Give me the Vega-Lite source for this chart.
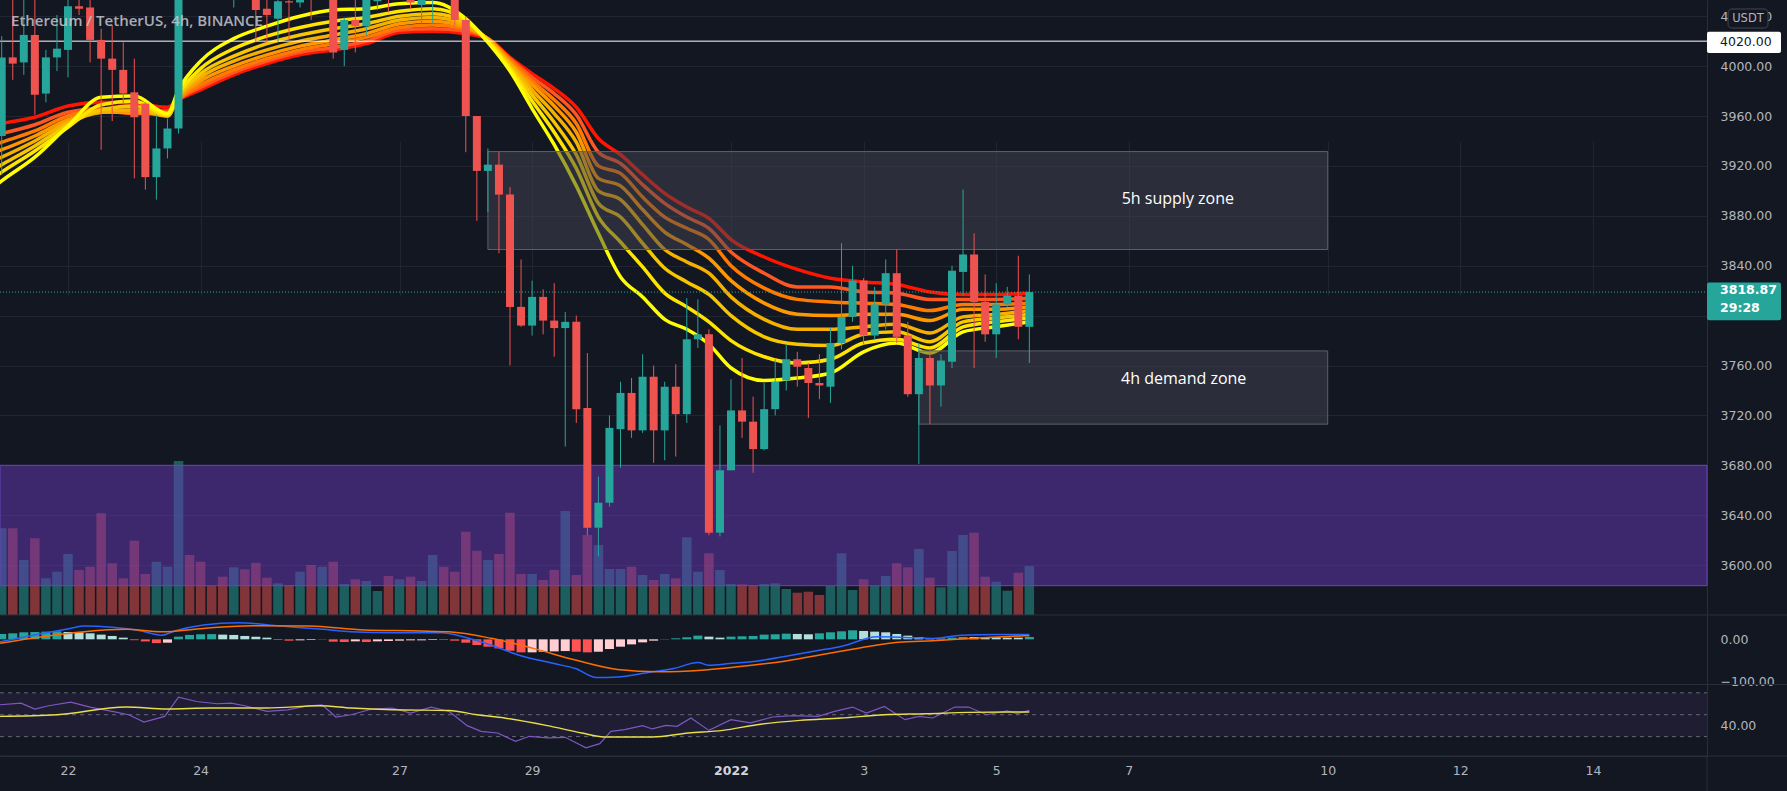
{
"$schema": "https://vega.github.io/schema/vega-lite/v6.json",
"width": 1707,
"height": 756,
"autosize": {"type": "none"},
"padding": {"left": 0, "top": 0, "right": 80, "bottom": 35},
"background": "#131722",
"config": {"view": {"stroke": null}},
"datasets": {
"candles": [
{"t":"2021-12-21T00:00","o":3944,"h":4024,"l":3913,"c":4007,"v":86700,"hv":12.8,"hs":"g"},
{"t":"2021-12-21T04:00","o":4007,"h":4062,"l":3989,"c":4002,"v":86700,"hv":14.3,"hs":"g"},
{"t":"2021-12-21T08:00","o":4003,"h":4058,"l":3993,"c":4025,"v":55000,"hv":16.7,"hs":"g"},
{"t":"2021-12-21T12:00","o":4025,"h":4056,"l":3961,"c":3977,"v":76700,"hv":17.5,"hs":"g"},
{"t":"2021-12-21T16:00","o":3978,"h":4013,"l":3971,"c":4007,"v":36700,"hv":18.3,"hs":"g"},
{"t":"2021-12-21T20:00","o":4007,"h":4041,"l":3996,"c":4014,"v":43300,"hv":19.1,"hs":"g"},
{"t":"2021-12-22T00:00","o":4013,"h":4062,"l":3991,"c":4048,"v":61000,"hv":17.5,"hs":"gl"},
{"t":"2021-12-22T04:00","o":4048,"h":4068,"l":4041,"c":4046,"v":45000,"hv":16.7,"hs":"gl"},
{"t":"2021-12-22T08:00","o":4047,"h":4065,"l":4003,"c":4021,"v":48300,"hv":14.3,"hs":"gl"},
{"t":"2021-12-22T12:00","o":4021,"h":4030,"l":3933,"c":4006,"v":101700,"hv":11.2,"hs":"gl"},
{"t":"2021-12-22T16:00","o":4006,"h":4033,"l":3956,"c":3997,"v":51700,"hv":8,"hs":"gl"},
{"t":"2021-12-22T20:00","o":3997,"h":4019,"l":3970,"c":3978,"v":36700,"hv":4,"hs":"gl"},
{"t":"2021-12-23T00:00","o":3979,"h":4006,"l":3910,"c":3959,"v":74300,"hv":-2,"hs":"r"},
{"t":"2021-12-23T04:00","o":3970,"h":3971,"l":3901,"c":3911,"v":41000,"hv":-5,"hs":"r"},
{"t":"2021-12-23T08:00","o":3911,"h":3961,"l":3893,"c":3934,"v":53300,"hv":-9,"hs":"r"},
{"t":"2021-12-23T12:00","o":3934,"h":3958,"l":3926,"c":3950,"v":48300,"hv":-8,"hs":"rl"},
{"t":"2021-12-23T16:00","o":3950,"h":4085,"l":3946,"c":4075,"v":154000,"hv":6.4,"hs":"g"},
{"t":"2021-12-23T20:00","o":4092,"h":4110,"l":4070,"c":4080,"v":60000,"hv":10.4,"hs":"g"},
{"t":"2021-12-24T00:00","o":4080,"h":4098,"l":4062,"c":4070,"v":53300,"hv":12,"hs":"g"},
{"t":"2021-12-24T04:00","o":4070,"h":4085,"l":4058,"c":4066,"v":29000,"hv":12.4,"hs":"g"},
{"t":"2021-12-24T08:00","o":4066,"h":4080,"l":4056,"c":4060,"v":38300,"hv":11.2,"hs":"gl"},
{"t":"2021-12-24T12:00","o":4060,"h":4082,"l":4047,"c":4072,"v":47700,"hv":10.4,"hs":"gl"},
{"t":"2021-12-24T16:00","o":4072,"h":4085,"l":4058,"c":4066,"v":45700,"hv":8,"hs":"gl"},
{"t":"2021-12-24T20:00","o":4066,"h":4072,"l":4019,"c":4045,"v":52300,"hv":6.4,"hs":"gl"},
{"t":"2021-12-25T00:00","o":4046,"h":4060,"l":4019,"c":4041,"v":37300,"hv":4,"hs":"gl"},
{"t":"2021-12-25T04:00","o":4038,"h":4062,"l":4019,"c":4052,"v":31700,"hv":-1.6,"hs":"r"},
{"t":"2021-12-25T08:00","o":4052,"h":4060,"l":4021,"c":4051,"v":30000,"hv":-3.2,"hs":"r"},
{"t":"2021-12-25T12:00","o":4051,"h":4068,"l":4047,"c":4060,"v":43300,"hv":-2.4,"hs":"rl"},
{"t":"2021-12-25T16:00","o":4072,"h":4082,"l":4037,"c":4062,"v":50000,"hv":-1.6,"hs":"rl"},
{"t":"2021-12-25T20:00","o":4062,"h":4090,"l":4056,"c":4080,"v":48300,"hv":0.8,"hs":"g"},
{"t":"2021-12-26T00:00","o":4080,"h":4088,"l":4006,"c":4011,"v":53300,"hv":-5.6,"hs":"r"},
{"t":"2021-12-26T04:00","o":4013,"h":4039,"l":4000,"c":4037,"v":31000,"hv":-6.4,"hs":"r"},
{"t":"2021-12-26T08:00","o":4037,"h":4055,"l":4011,"c":4032,"v":35700,"hv":-4.8,"hs":"rl"},
{"t":"2021-12-26T12:00","o":4032,"h":4065,"l":4024,"c":4058,"v":34000,"hv":-6.4,"hs":"r"},
{"t":"2021-12-26T16:00","o":4052,"h":4078,"l":4045,"c":4070,"v":24000,"hv":-4.8,"hs":"rl"},
{"t":"2021-12-26T20:00","o":4075,"h":4085,"l":4043,"c":4062,"v":39000,"hv":-4,"hs":"rl"},
{"t":"2021-12-27T00:00","o":4062,"h":4090,"l":4055,"c":4078,"v":35700,"hv":-3.2,"hs":"rl"},
{"t":"2021-12-27T04:00","o":4080,"h":4088,"l":4046,"c":4051,"v":38300,"hv":-2.4,"hs":"rl"},
{"t":"2021-12-27T08:00","o":4049,"h":4072,"l":4034,"c":4060,"v":34000,"hv":-2.4,"hs":"rl"},
{"t":"2021-12-27T12:00","o":4058,"h":4080,"l":4034,"c":4070,"v":60000,"hv":-1.6,"hs":"rl"},
{"t":"2021-12-27T16:00","o":4070,"h":4085,"l":4055,"c":4068,"v":48300,"hv":-0.8,"hs":"rl"},
{"t":"2021-12-27T20:00","o":4068,"h":4075,"l":4032,"c":4037,"v":43300,"hv":-3.2,"hs":"r"},
{"t":"2021-12-28T00:00","o":4037,"h":4040,"l":3931,"c":3960,"v":83300,"hv":-8,"hs":"r"},
{"t":"2021-12-28T04:00","o":3960,"h":3960,"l":3876,"c":3916,"v":64300,"hv":-13.5,"hs":"r"},
{"t":"2021-12-28T08:00","o":3916,"h":3934,"l":3883,"c":3921,"v":55000,"hv":-17.5,"hs":"r"},
{"t":"2021-12-28T12:00","o":3921,"h":3931,"l":3850,"c":3897,"v":61000,"hv":-21.5,"hs":"r"},
{"t":"2021-12-28T16:00","o":3897,"h":3903,"l":3760,"c":3807,"v":102300,"hv":-27,"hs":"r"},
{"t":"2021-12-28T20:00","o":3807,"h":3845,"l":3791,"c":3792,"v":41000,"hv":-31,"hs":"r"},
{"t":"2021-12-29T00:00","o":3792,"h":3828,"l":3784,"c":3815,"v":41000,"hv":-31,"hs":"rl"},
{"t":"2021-12-29T04:00","o":3815,"h":3821,"l":3785,"c":3796,"v":35000,"hv":-29.5,"hs":"rl"},
{"t":"2021-12-29T08:00","o":3796,"h":3826,"l":3767,"c":3790,"v":45000,"hv":-28.7,"hs":"rl"},
{"t":"2021-12-29T12:00","o":3790,"h":3803,"l":3695,"c":3795,"v":104000,"hv":-27.9,"hs":"rl"},
{"t":"2021-12-29T16:00","o":3795,"h":3800,"l":3714,"c":3725,"v":40000,"hv":-29.5,"hs":"r"},
{"t":"2021-12-29T20:00","o":3726,"h":3770,"l":3624,"c":3630,"v":80000,"hv":-31,"hs":"r"},
{"t":"2021-12-30T00:00","o":3630,"h":3671,"l":3607,"c":3650,"v":70000,"hv":-29.5,"hs":"rl"},
{"t":"2021-12-30T04:00","o":3650,"h":3720,"l":3647,"c":3710,"v":46000,"hv":-23,"hs":"rl"},
{"t":"2021-12-30T08:00","o":3709,"h":3747,"l":3678,"c":3738,"v":46000,"hv":-17.5,"hs":"rl"},
{"t":"2021-12-30T12:00","o":3738,"h":3750,"l":3702,"c":3708,"v":48300,"hv":-12,"hs":"rl"},
{"t":"2021-12-30T16:00","o":3708,"h":3769,"l":3706,"c":3751,"v":40000,"hv":-7.2,"hs":"rl"},
{"t":"2021-12-30T20:00","o":3751,"h":3760,"l":3682,"c":3708,"v":35000,"hv":-3.2,"hs":"rl"},
{"t":"2021-12-31T00:00","o":3708,"h":3747,"l":3684,"c":3743,"v":41000,"hv":0.8,"hs":"g"},
{"t":"2021-12-31T04:00","o":3743,"h":3761,"l":3687,"c":3721,"v":36700,"hv":2.4,"hs":"g"},
{"t":"2021-12-31T08:00","o":3721,"h":3814,"l":3714,"c":3781,"v":77700,"hv":4.8,"hs":"g"},
{"t":"2021-12-31T12:00","o":3781,"h":3813,"l":3774,"c":3785,"v":43300,"hv":8.8,"hs":"g"},
{"t":"2021-12-31T16:00","o":3785,"h":3789,"l":3624,"c":3626,"v":61700,"hv":6.4,"hs":"gl"},
{"t":"2021-12-31T20:00","o":3626,"h":3712,"l":3623,"c":3676,"v":45000,"hv":4,"hs":"gl"},
{"t":"2022-01-01T00:00","o":3676,"h":3749,"l":3676,"c":3724,"v":31000,"hv":6.4,"hs":"g"},
{"t":"2022-01-01T04:00","o":3724,"h":3766,"l":3702,"c":3715,"v":30700,"hv":7.2,"hs":"g"},
{"t":"2022-01-01T08:00","o":3715,"h":3735,"l":3674,"c":3693,"v":30000,"hv":8,"hs":"g"},
{"t":"2022-01-01T12:00","o":3693,"h":3746,"l":3692,"c":3725,"v":31000,"hv":11.2,"hs":"g"},
{"t":"2022-01-01T16:00","o":3725,"h":3765,"l":3720,"c":3747,"v":31700,"hv":12,"hs":"g"},
{"t":"2022-01-01T20:00","o":3748,"h":3777,"l":3740,"c":3765,"v":26000,"hv":13.5,"hs":"g"},
{"t":"2022-01-02T00:00","o":3765,"h":3771,"l":3743,"c":3759,"v":22300,"hv":12.8,"hs":"gl"},
{"t":"2022-01-02T04:00","o":3758,"h":3762,"l":3718,"c":3746,"v":23300,"hv":12,"hs":"gl"},
{"t":"2022-01-02T08:00","o":3746,"h":3769,"l":3733,"c":3744,"v":20000,"hv":14.3,"hs":"g"},
{"t":"2022-01-02T12:00","o":3743,"h":3790,"l":3730,"c":3778,"v":29000,"hv":16.7,"hs":"g"},
{"t":"2022-01-02T16:00","o":3778,"h":3858,"l":3773,"c":3799,"v":61700,"hv":19.1,"hs":"g"},
{"t":"2022-01-02T20:00","o":3799,"h":3840,"l":3795,"c":3828,"v":25000,"hv":21.5,"hs":"g"},
{"t":"2022-01-03T00:00","o":3828,"h":3830,"l":3777,"c":3784,"v":35700,"hv":19.9,"hs":"gl"},
{"t":"2022-01-03T04:00","o":3784,"h":3823,"l":3781,"c":3809,"v":29000,"hv":18.3,"hs":"gl"},
{"t":"2022-01-03T08:00","o":3809,"h":3845,"l":3789,"c":3834,"v":39000,"hv":16.7,"hs":"gl"},
{"t":"2022-01-03T12:00","o":3834,"h":3853,"l":3778,"c":3783,"v":51700,"hv":12.8,"hs":"gl"},
{"t":"2022-01-03T16:00","o":3784,"h":3795,"l":3735,"c":3737,"v":47700,"hv":8.8,"hs":"gl"},
{"t":"2022-01-03T20:00","o":3737,"h":3778,"l":3681,"c":3766,"v":66000,"hv":5.6,"hs":"gl"},
{"t":"2022-01-04T00:00","o":3766,"h":3773,"l":3713,"c":3744,"v":37300,"hv":3.2,"hs":"gl"},
{"t":"2022-01-04T04:00","o":3744,"h":3769,"l":3727,"c":3764,"v":27700,"hv":1.6,"hs":"gl"},
{"t":"2022-01-04T08:00","o":3763,"h":3840,"l":3758,"c":3836,"v":64000,"hv":4,"hs":"g"},
{"t":"2022-01-04T12:00","o":3835,"h":3901,"l":3816,"c":3849,"v":80000,"hv":5.6,"hs":"g"},
{"t":"2022-01-04T16:00","o":3849,"h":3866,"l":3758,"c":3811,"v":82300,"hv":5.6,"hs":"gl"},
{"t":"2022-01-04T20:00","o":3811,"h":3833,"l":3779,"c":3785,"v":38300,"hv":4.8,"hs":"gl"},
{"t":"2022-01-05T00:00","o":3785,"h":3826,"l":3766,"c":3809,"v":33300,"hv":4.8,"hs":"gl"},
{"t":"2022-01-05T04:00","o":3809,"h":3823,"l":3807,"c":3816,"v":24300,"hv":4,"hs":"gl"},
{"t":"2022-01-05T08:00","o":3816,"h":3848,"l":3781,"c":3791,"v":42300,"hv":4,"hs":"gl"},
{"t":"2022-01-05T12:00","o":3791,"h":3833,"l":3762,"c":3818.87,"v":49000,"hv":5.6,"hs":"g"}
],
"ribbon": [
{"t":"2021-12-20T20:00","r1":3952,"r2":3944,"r3":3936,"r4":3930,"r5":3923,"r6":3916,"r7":3909,"r8":3901},
{"t":"2021-12-21T00:00","r1":3954,"r2":3946,"r3":3939,"r4":3933,"r5":3927,"r6":3921,"r7":3915,"r8":3908},
{"t":"2021-12-21T12:00","r1":3959,"r2":3953,"r3":3948,"r4":3944,"r5":3940,"r6":3936,"r7":3932,"r8":3927},
{"t":"2021-12-22T00:00","r1":3968,"r2":3963,"r3":3960,"r4":3957,"r5":3955,"r6":3953,"r7":3951,"r8":3952},
{"t":"2021-12-22T12:00","r1":3971,"r2":3966,"r3":3964,"r4":3963,"r5":3963,"r6":3965,"r7":3969,"r8":3975},
{"t":"2021-12-23T00:00","r1":3970,"r2":3964,"r3":3962,"r4":3963,"r5":3965,"r6":3968,"r7":3972,"r8":3976},
{"t":"2021-12-23T12:00","r1":3967,"r2":3964,"r3":3962,"r4":3961,"r5":3960,"r6":3960,"r7":3961,"r8":3962},
{"t":"2021-12-23T16:00","r1":3973,"r2":3973,"r3":3973,"r4":3974,"r5":3975,"r6":3976,"r7":3978,"r8":3981},
{"t":"2021-12-24T00:00","r1":3981,"r2":3983,"r3":3985,"r4":3988,"r5":3991,"r6":3994,"r7":3998,"r8":4004},
{"t":"2021-12-24T12:00","r1":3993,"r2":3995,"r3":3997,"r4":4000,"r5":4004,"r6":4008,"r7":4014,"r8":4022},
{"t":"2021-12-25T00:00","r1":4002,"r2":4004,"r3":4006,"r4":4009,"r5":4013,"r6":4018,"r7":4024,"r8":4032},
{"t":"2021-12-25T12:00","r1":4009,"r2":4011,"r3":4013,"r4":4016,"r5":4020,"r6":4025,"r7":4031,"r8":4040},
{"t":"2021-12-26T00:00","r1":4013,"r2":4015,"r3":4018,"r4":4021,"r5":4025,"r6":4030,"r7":4036,"r8":4045},
{"t":"2021-12-26T12:00","r1":4018,"r2":4020,"r3":4023,"r4":4026,"r5":4030,"r6":4034,"r7":4039,"r8":4046},
{"t":"2021-12-27T00:00","r1":4027,"r2":4029,"r3":4031,"r4":4034,"r5":4037,"r6":4040,"r7":4044,"r8":4050},
{"t":"2021-12-27T12:00","r1":4028,"r2":4030,"r3":4033,"r4":4036,"r5":4039,"r6":4042,"r7":4046,"r8":4051},
{"t":"2021-12-28T00:00","r1":4026,"r2":4028,"r3":4030,"r4":4031,"r5":4033,"r6":4035,"r7":4037,"r8":4038},
{"t":"2021-12-28T08:00","r1":4022,"r2":4022,"r3":4022,"r4":4022,"r5":4021,"r6":4021,"r7":4020,"r8":4019},
{"t":"2021-12-28T16:00","r1":4007,"r2":4006,"r3":4005,"r4":4003,"r5":4002,"r6":4000,"r7":3998,"r8":3996},
{"t":"2021-12-29T00:00","r1":3994,"r2":3991,"r3":3988,"r4":3985,"r5":3981,"r6":3977,"r7":3972,"r8":3966},
{"t":"2021-12-29T08:00","r1":3982,"r2":3978,"r3":3973,"r4":3968,"r5":3962,"r6":3955,"r7":3947,"r8":3937},
{"t":"2021-12-29T16:00","r1":3967,"r2":3961,"r3":3954,"r4":3947,"r5":3939,"r6":3929,"r7":3918,"r8":3904},
{"t":"2021-12-30T00:00","r1":3942,"r2":3931,"r3":3920,"r4":3910,"r5":3900,"r6":3890,"r7":3879,"r8":3866},
{"t":"2021-12-30T08:00","r1":3929,"r2":3922,"r3":3914,"r4":3904,"r5":3893,"r6":3879,"r7":3859,"r8":3831},
{"t":"2021-12-30T16:00","r1":3913,"r2":3905,"r3":3895,"r4":3885,"r5":3873,"r6":3858,"r7":3839,"r8":3815},
{"t":"2021-12-31T00:00","r1":3898,"r2":3890,"r3":3879,"r4":3867,"r5":3853,"r6":3838,"r7":3818,"r8":3797},
{"t":"2021-12-31T08:00","r1":3887,"r2":3879,"r3":3870,"r4":3857,"r5":3843,"r6":3827,"r7":3807,"r8":3789},
{"t":"2021-12-31T16:00","r1":3878,"r2":3870,"r3":3861,"r4":3846,"r5":3834,"r6":3817,"r7":3795,"r8":3777},
{"t":"2022-01-01T00:00","r1":3861,"r2":3851,"r3":3840,"r4":3828,"r5":3815,"r6":3800,"r7":3780,"r8":3758},
{"t":"2022-01-01T12:00","r1":3847,"r2":3834,"r3":3822,"r4":3810,"r5":3797,"r6":3783,"r7":3767,"r8":3748},
{"t":"2022-01-02T00:00","r1":3837,"r2":3823,"r3":3813,"r4":3801,"r5":3789,"r6":3777,"r7":3762,"r8":3750},
{"t":"2022-01-02T12:00","r1":3830,"r2":3823,"r3":3811,"r4":3800,"r5":3789,"r6":3776,"r7":3765,"r8":3754},
{"t":"2022-01-03T00:00","r1":3827,"r2":3819,"r3":3810,"r4":3801,"r5":3791,"r6":3785,"r7":3778,"r8":3771},
{"t":"2022-01-03T12:00","r1":3825,"r2":3818,"r3":3809,"r4":3801,"r5":3793,"r6":3787,"r7":3781,"r8":3778},
{"t":"2022-01-04T00:00","r1":3819,"r2":3813,"r3":3804,"r4":3796,"r5":3786,"r6":3779,"r7":3774,"r8":3770},
{"t":"2022-01-04T12:00","r1":3817,"r2":3813,"r3":3809,"r4":3805,"r5":3799,"r6":3795,"r7":3791,"r8":3787},
{"t":"2022-01-05T00:00","r1":3817,"r2":3813,"r3":3809,"r4":3805,"r5":3801,"r6":3798,"r7":3795,"r8":3791},
{"t":"2022-01-05T12:00","r1":3818,"r2":3814,"r3":3810,"r4":3807,"r5":3804,"r6":3801,"r7":3798,"r8":3795}
],
"macdm": [
{"t":"2021-12-20T23:23","v":-6},{"t":"2021-12-21T14:38","v":14},{"t":"2021-12-22T00:47","v":26},{"t":"2021-12-22T05:52","v":31.6},
{"t":"2021-12-22T16:00","v":28.5},{"t":"2021-12-23T02:12","v":20.3},{"t":"2021-12-23T09:48","v":10},{"t":"2021-12-23T14:54","v":20.3},
{"t":"2021-12-24T01:00","v":34},{"t":"2021-12-24T13:42","v":39.5},{"t":"2021-12-25T05:00","v":31.6},{"t":"2021-12-25T20:12","v":23.7},
{"t":"2021-12-26T06:24","v":18},{"t":"2021-12-26T21:36","v":15.6},{"t":"2021-12-27T15:24","v":15.6},{"t":"2021-12-27T23:00","v":6},
{"t":"2021-12-28T09:12","v":-13.9},{"t":"2021-12-28T19:18","v":-37.8},{"t":"2021-12-29T08:00","v":-57.7},{"t":"2021-12-29T15:42","v":-69.6},
{"t":"2021-12-29T23:18","v":-91},{"t":"2021-12-30T06:54","v":-89.7},{"t":"2021-12-30T17:00","v":-80},{"t":"2021-12-31T03:12","v":-69.6},
{"t":"2021-12-31T12:06","v":-55.3},{"t":"2021-12-31T15:54","v":-61.7},{"t":"2021-12-31T23:30","v":-57.7},{"t":"2022-01-01T09:42","v":-51.4},
{"t":"2022-01-01T19:54","v":-40.2},{"t":"2022-01-02T06:00","v":-28.2},{"t":"2022-01-02T16:12","v":-16.3},{"t":"2022-01-03T04:54","v":6},
{"t":"2022-01-03T15:00","v":4.5},{"t":"2022-01-04T01:12","v":2.2},{"t":"2022-01-04T11:24","v":10},{"t":"2022-01-05T00:06","v":11.7},
{"t":"2022-01-05T12:00","v":11.7}
],
"macds": [
{"t":"2021-12-20T23:23","v":-9.6},{"t":"2021-12-21T14:38","v":6},{"t":"2021-12-22T05:52","v":18},{"t":"2021-12-22T21:06","v":23.7},
{"t":"2021-12-23T09:48","v":18},{"t":"2021-12-24T01:00","v":26},{"t":"2021-12-24T18:48","v":32.5},{"t":"2021-12-25T15:06","v":31.6},
{"t":"2021-12-26T11:24","v":22},{"t":"2021-12-27T07:42","v":19.9},{"t":"2021-12-27T17:54","v":18},{"t":"2021-12-28T09:12","v":2.4},
{"t":"2021-12-29T00:24","v":-21.5},{"t":"2021-12-29T15:42","v":-49.4},{"t":"2021-12-30T06:54","v":-71.7},{"t":"2021-12-30T22:06","v":-77.3},
{"t":"2021-12-31T13:24","v":-73.3},{"t":"2022-01-01T02:06","v":-65.4},{"t":"2022-01-01T19:54","v":-51.4},{"t":"2022-01-02T11:06","v":-33.9},
{"t":"2022-01-03T02:18","v":-16.3},{"t":"2022-01-03T12:30","v":-7.2},{"t":"2022-01-04T01:12","v":-3.2},{"t":"2022-01-04T19:00","v":4},
{"t":"2022-01-05T12:00","v":8.8}
],
"rsi": [
{"t":"2021-12-20T23:23","v":59.1},{"t":"2021-12-21T07:00","v":60.6},{"t":"2021-12-21T12:00","v":55.2},{"t":"2021-12-21T17:00","v":58.2},
{"t":"2021-12-22T01:00","v":61.5},{"t":"2021-12-22T08:00","v":57},{"t":"2021-12-22T16:00","v":53},{"t":"2021-12-22T22:00","v":50},
{"t":"2021-12-23T03:30","v":43.3},{"t":"2021-12-23T11:00","v":48.5},{"t":"2021-12-23T16:00","v":66.1},{"t":"2021-12-23T22:30","v":62.1},
{"t":"2021-12-24T06:00","v":60},{"t":"2021-12-24T11:00","v":60.6},{"t":"2021-12-24T16:00","v":58.2},{"t":"2021-12-25T00:00","v":53},
{"t":"2021-12-25T07:30","v":54.5},{"t":"2021-12-25T15:00","v":58.2},{"t":"2021-12-25T20:00","v":59.1},{"t":"2021-12-26T01:00","v":47.9},
{"t":"2021-12-26T06:30","v":50},{"t":"2021-12-26T14:00","v":55.2},{"t":"2021-12-26T21:30","v":56.1},{"t":"2021-12-27T04:00","v":51.5},
{"t":"2021-12-27T11:30","v":57},{"t":"2021-12-27T18:00","v":53},{"t":"2021-12-28T00:30","v":40},{"t":"2021-12-28T05:30","v":34.8},
{"t":"2021-12-28T11:30","v":33.3},{"t":"2021-12-28T18:00","v":25.7},{"t":"2021-12-28T23:00","v":30.3},{"t":"2021-12-29T05:30","v":28.8},
{"t":"2021-12-29T12:00","v":29.4},{"t":"2021-12-29T19:30","v":19.7},{"t":"2021-12-30T00:30","v":23.6},{"t":"2021-12-30T04:30","v":34.8},
{"t":"2021-12-30T09:30","v":36.4},{"t":"2021-12-30T16:00","v":40},{"t":"2021-12-30T19:30","v":37},{"t":"2021-12-31T00:30","v":40.3},
{"t":"2021-12-31T04:30","v":39.4},{"t":"2021-12-31T09:30","v":47},{"t":"2021-12-31T16:00","v":35.7},{"t":"2022-01-01T00:00","v":45.5},
{"t":"2022-01-01T07:00","v":42.5},{"t":"2022-01-01T15:00","v":47.9},{"t":"2022-01-01T22:30","v":49.1},{"t":"2022-01-02T07:30","v":48.5},
{"t":"2022-01-02T13:30","v":53},{"t":"2022-01-02T20:00","v":57},{"t":"2022-01-03T01:00","v":51.5},{"t":"2022-01-03T07:30","v":57.6},
{"t":"2022-01-03T15:00","v":45.5},{"t":"2022-01-03T20:00","v":48.5},{"t":"2022-01-04T01:00","v":47},{"t":"2022-01-04T09:00","v":57},
{"t":"2022-01-04T14:00","v":57},{"t":"2022-01-04T20:30","v":50},{"t":"2022-01-05T04:00","v":53.6},{"t":"2022-01-05T07:30","v":50.9},
{"t":"2022-01-05T12:00","v":53.9}
],
"rsima": [
{"t":"2021-12-20T23:23","v":48.5},{"t":"2021-12-21T20:00","v":50},{"t":"2021-12-22T21:00","v":57},{"t":"2021-12-23T12:00","v":55.2},
{"t":"2021-12-24T03:30","v":56.1},{"t":"2021-12-25T00:00","v":56.1},{"t":"2021-12-25T19:00","v":58.2},{"t":"2021-12-26T06:30","v":56.1},
{"t":"2021-12-26T21:30","v":54.5},{"t":"2021-12-27T18:00","v":53.9},{"t":"2021-12-28T04:00","v":50},{"t":"2021-12-28T14:00","v":47},
{"t":"2021-12-29T05:30","v":40},{"t":"2021-12-29T18:00","v":33.3},{"t":"2021-12-30T02:00","v":29.7},{"t":"2021-12-30T19:30","v":29.7},
{"t":"2021-12-31T08:30","v":33.3},{"t":"2021-12-31T21:00","v":35.7},{"t":"2022-01-01T09:30","v":40.9},{"t":"2022-01-02T01:00","v":44.8},
{"t":"2022-01-02T16:00","v":47},{"t":"2022-01-03T07:30","v":50},{"t":"2022-01-03T22:30","v":50.9},{"t":"2022-01-04T14:00","v":52.1},
{"t":"2022-01-05T12:00","v":52.5}
]
},
"encoding": {
"x": {"field": "t", "type": "temporal",
 "scale": {"domain": [{"year":2021,"month":12,"date":20,"hours":23,"minutes":23},{"year":2022,"month":1,"date":15,"hours":17,"minutes":18}], "nice": false, "padding": 0},
 "axis": {"title": null,
  "values": [{"year":2021,"month":12,"date":22},{"year":2021,"month":12,"date":24},{"year":2021,"month":12,"date":27},{"year":2021,"month":12,"date":29},{"year":2022,"month":1,"date":1},{"year":2022,"month":1,"date":3},{"year":2022,"month":1,"date":5},{"year":2022,"month":1,"date":7},{"year":2022,"month":1,"date":10},{"year":2022,"month":1,"date":12},{"year":2022,"month":1,"date":14}],
  "labelExpr": "month(datum.value) == 0 && date(datum.value) == 1 ? '2022' : '' + date(datum.value)",
  "labelFontWeight": {"condition": {"test": "month(datum.value) == 0 && date(datum.value) == 1", "value": "bold"}, "value": "normal"},
  "labelColor": {"condition": {"test": "month(datum.value) == 0 && date(datum.value) == 1", "value": "#d1d4dc"}, "value": "#b2b5be"},
  "labelFont": "DejaVu Sans", "labelFontSize": 12.5, "labelPadding": 8, "ticks": false,
  "domain": true, "domainColor": "#2a2e39", "grid": true, "gridColor": "#212530",
  "labelFlush": false, "labelOverlap": false}}
},
"layer": [
{"data": {"name": "candles"},
 "mark": {"type": "bar", "size": 9.5, "opacity": 0.5, "clip": true},
 "encoding": {
  "y": {"field": "v", "type": "quantitative", "scale": {"domain": [0, 154000], "range": [615, 461], "nice": false, "zero": false}, "axis": null},
  "y2": {"datum": 0},
  "color": {"condition": {"test": "datum.c >= datum.o", "value": "#26a69a"}, "value": "#ef5350"}
 }},
{"layer": [
 {"data": {"values": [{"t1": "2021-12-20T23:23", "t2": "2022-01-15T17:18", "a": 3583.5, "b": 3680}]},
  "mark": {"type": "rect", "fill": "#673ab7", "fillOpacity": 0.5, "stroke": "#6a45b8", "strokeWidth": 1},
  "encoding": {
   "x": {"field": "t1", "type": "temporal"},
   "x2": {"field": "t2"},
   "y": {"field": "a", "type": "quantitative", "scale": {"domain": [3560, 4053], "range": [615, 0], "nice": false, "zero": false},
    "axis": {"orient": "right", "title": null, "values": [3600,3640,3680,3720,3760,3800,3840,3880,3920,3960,4000,4040],
     "labelExpr": "datum.value == 3800 ? '' : format(datum.value, '.2f')", "grid": true, "gridColor": "#212530", "ticks": false,
     "domain": true, "domainColor": "#2a2e39", "labelPadding": 13, "labelColor": "#b2b5be", "labelFont": "DejaVu Sans",
     "labelFontSize": 12.5, "labelAlign": "left", "labelBaseline": "middle", "labelFlush": false, "labelOverlap": false}},
   "y2": {"field": "b"}
  }},
 {"data": {"name": "ribbon"}, "mark": {"type": "line", "color": "#ff1500", "strokeWidth": 3.5, "interpolate": "monotone", "clip": true},
  "encoding": {"y": {"field": "r1", "type": "quantitative", "scale": {"domain": [3560, 4053], "range": [615, 0], "nice": false, "zero": false}}}},
 {"data": {"name": "ribbon"}, "mark": {"type": "line", "color": "#ff5722", "strokeWidth": 3.5, "interpolate": "monotone", "clip": true},
  "encoding": {"y": {"field": "r2", "type": "quantitative", "scale": {"domain": [3560, 4053], "range": [615, 0], "nice": false, "zero": false}}}},
 {"data": {"name": "ribbon"}, "mark": {"type": "line", "color": "#ff7a00", "strokeWidth": 3.5, "interpolate": "monotone", "clip": true},
  "encoding": {"y": {"field": "r3", "type": "quantitative", "scale": {"domain": [3560, 4053], "range": [615, 0], "nice": false, "zero": false}}}},
 {"data": {"name": "ribbon"}, "mark": {"type": "line", "color": "#ff9800", "strokeWidth": 3.5, "interpolate": "monotone", "clip": true},
  "encoding": {"y": {"field": "r4", "type": "quantitative", "scale": {"domain": [3560, 4053], "range": [615, 0], "nice": false, "zero": false}}}},
 {"data": {"name": "ribbon"}, "mark": {"type": "line", "color": "#f5b000", "strokeWidth": 3.5, "interpolate": "monotone", "clip": true},
  "encoding": {"y": {"field": "r5", "type": "quantitative", "scale": {"domain": [3560, 4053], "range": [615, 0], "nice": false, "zero": false}}}},
 {"data": {"name": "ribbon"}, "mark": {"type": "line", "color": "#f7c600", "strokeWidth": 3.5, "interpolate": "monotone", "clip": true},
  "encoding": {"y": {"field": "r6", "type": "quantitative", "scale": {"domain": [3560, 4053], "range": [615, 0], "nice": false, "zero": false}}}},
 {"data": {"name": "ribbon"}, "mark": {"type": "line", "color": "#ffe400", "strokeWidth": 3.5, "interpolate": "monotone", "clip": true},
  "encoding": {"y": {"field": "r7", "type": "quantitative", "scale": {"domain": [3560, 4053], "range": [615, 0], "nice": false, "zero": false}}}},
 {"data": {"name": "ribbon"}, "mark": {"type": "line", "color": "#ffff00", "strokeWidth": 3.5, "interpolate": "monotone", "clip": true},
  "encoding": {"y": {"field": "r8", "type": "quantitative", "scale": {"domain": [3560, 4053], "range": [615, 0], "nice": false, "zero": false}}}},
 {"data": {"values": [
   {"t1": "2021-12-28T08:00", "t2": "2022-01-10T00:00", "p1": 3853, "p2": 3931.5},
   {"t1": "2022-01-03T20:00", "t2": "2022-01-10T00:00", "p1": 3713, "p2": 3771.7}]},
  "mark": {"type": "rect", "fill": "#434552", "fillOpacity": 0.5, "stroke": "#5d606b", "strokeWidth": 1},
  "encoding": {
   "x": {"field": "t1", "type": "temporal"}, "x2": {"field": "t2"},
   "y": {"field": "p1", "type": "quantitative", "scale": {"domain": [3560, 4053], "range": [615, 0], "nice": false, "zero": false}},
   "y2": {"field": "p2"}}},
 {"data": {"values": [
   {"t": "2022-01-07T17:45", "p": 3893.1, "txt": "5h supply zone"},
   {"t": "2022-01-07T19:52", "p": 3749.3, "txt": "4h demand zone"}]},
  "mark": {"type": "text", "color": "#ffffff", "font": "Open Sans", "fontSize": 16, "align": "center", "baseline": "middle"},
  "encoding": {
   "y": {"field": "p", "type": "quantitative", "scale": {"domain": [3560, 4053], "range": [615, 0], "nice": false, "zero": false}},
   "text": {"field": "txt"}}},
 {"data": {"values": [{"t1": "2021-12-20T23:23", "t2": "2022-01-15T17:18", "p": 4020}]},
  "mark": {"type": "rule", "color": "#ffffff", "strokeWidth": 1},
  "encoding": {
   "x": {"field": "t1", "type": "temporal"}, "x2": {"field": "t2"},
   "y": {"field": "p", "type": "quantitative", "scale": {"domain": [3560, 4053], "range": [615, 0], "nice": false, "zero": false}}}},
 {"data": {"values": [{"t1": "2021-12-20T23:23", "t2": "2022-01-15T17:18", "p": 3818.87}]},
  "mark": {"type": "rule", "color": "#26a69a", "strokeWidth": 1, "strokeDash": [1, 2]},
  "encoding": {
   "x": {"field": "t1", "type": "temporal"}, "x2": {"field": "t2"},
   "y": {"field": "p", "type": "quantitative", "scale": {"domain": [3560, 4053], "range": [615, 0], "nice": false, "zero": false}}}},
 {"data": {"name": "candles"},
  "mark": {"type": "rule", "strokeWidth": 1, "clip": true},
  "encoding": {
   "y": {"field": "l", "type": "quantitative", "scale": {"domain": [3560, 4053], "range": [615, 0], "nice": false, "zero": false}},
   "y2": {"field": "h"},
   "color": {"condition": {"test": "datum.c >= datum.o", "value": "#26a69a"}, "value": "#ef5350"}}},
 {"data": {"name": "candles"},
  "mark": {"type": "bar", "size": 8, "clip": true},
  "encoding": {
   "y": {"field": "o", "type": "quantitative", "scale": {"domain": [3560, 4053], "range": [615, 0], "nice": false, "zero": false}},
   "y2": {"field": "c"},
   "color": {"condition": {"test": "datum.c >= datum.o", "value": "#26a69a"}, "value": "#ef5350"}}},
 {"data": {"values": [{"t1": "2022-01-15T17:18", "t2": "2022-01-16T20:05", "p1": 4010.5, "p2": 4027.5}]},
  "mark": {"type": "rect", "fill": "#ffffff", "cornerRadius": 2},
  "encoding": {
   "x": {"field": "t1", "type": "temporal"}, "x2": {"field": "t2"},
   "y": {"field": "p1", "type": "quantitative", "scale": {"domain": [3560, 4053], "range": [615, 0], "nice": false, "zero": false}},
   "y2": {"field": "p2"}}},
 {"data": {"values": [{"t1": "2022-01-15T17:18", "t2": "2022-01-16T20:05", "p1": 3796.2, "p2": 3826.6}]},
  "mark": {"type": "rect", "fill": "#26a69a", "cornerRadius": 2},
  "encoding": {
   "x": {"field": "t1", "type": "temporal"}, "x2": {"field": "t2"},
   "y": {"field": "p1", "type": "quantitative", "scale": {"domain": [3560, 4053], "range": [615, 0], "nice": false, "zero": false}},
   "y2": {"field": "p2"}}},
 {"data": {"values": [{"t1": "2022-01-16T00:55", "t2": "2022-01-16T15:23", "p1": 4030.5, "p2": 4045.8}]},
  "mark": {"type": "rect", "fill": "#131722", "stroke": "#434651", "strokeWidth": 1, "cornerRadius": 4},
  "encoding": {
   "x": {"field": "t1", "type": "temporal"}, "x2": {"field": "t2"},
   "y": {"field": "p1", "type": "quantitative", "scale": {"domain": [3560, 4053], "range": [615, 0], "nice": false, "zero": false}},
   "y2": {"field": "p2"}}},
 {"data": {"values": [{"t": "2022-01-15T22:00", "p": 4019, "txt": "4020.00"}]},
  "mark": {"type": "text", "color": "#131722", "font": "DejaVu Sans", "fontSize": 12.5, "align": "left", "baseline": "middle"},
  "encoding": {
   "y": {"field": "p", "type": "quantitative", "scale": {"domain": [3560, 4053], "range": [615, 0], "nice": false, "zero": false}},
   "text": {"field": "txt"}}},
 {"data": {"values": [{"t": "2022-01-15T22:00", "p": 3820.5, "txt": "3818.87"}, {"t": "2022-01-15T22:00", "p": 3805.8, "txt": "29:28"}]},
  "mark": {"type": "text", "color": "#ffffff", "font": "DejaVu Sans", "fontSize": 12.5, "fontWeight": "bold", "align": "left", "baseline": "middle"},
  "encoding": {
   "y": {"field": "p", "type": "quantitative", "scale": {"domain": [3560, 4053], "range": [615, 0], "nice": false, "zero": false}},
   "text": {"field": "txt"}}},
 {"data": {"values": [{"t": "2022-01-16T08:08", "p": 4038, "txt": "USDT"}]},
  "mark": {"type": "text", "color": "#b2b5be", "font": "DejaVu Sans", "fontSize": 11.5, "align": "center", "baseline": "middle"},
  "encoding": {
   "y": {"field": "p", "type": "quantitative", "scale": {"domain": [3560, 4053], "range": [615, 0], "nice": false, "zero": false}},
   "text": {"field": "txt"}}},
 {"data": {"values": [{"t": "2021-12-21T03:22", "p": 4032.4, "txt": "Ethereum / TetherUS, 4h, BINANCE"}]},
  "mark": {"type": "text", "color": "#c3c6ce", "opacity": 0.85, "font": "Open Sans", "fontSize": 15, "fontWeight": 600, "align": "left", "baseline": "alphabetic"},
  "encoding": {
   "y": {"field": "p", "type": "quantitative", "scale": {"domain": [3560, 4053], "range": [615, 0], "nice": false, "zero": false}},
   "text": {"field": "txt"}}}
]},
{"layer": [
 {"data": {"name": "candles"},
  "mark": {"type": "bar", "size": 9, "clip": true},
  "encoding": {
   "y": {"field": "hv", "type": "quantitative", "scale": {"domain": [-107.5, 57.9], "range": [684.5, 615], "nice": false, "zero": false},
    "axis": {"orient": "right", "title": null, "values": [0, -100], "format": ".2f", "grid": false, "ticks": false,
     "domain": true, "domainColor": "#2a2e39", "labelPadding": 13, "labelColor": "#b2b5be", "labelFont": "DejaVu Sans",
     "labelFontSize": 12.5, "labelAlign": "left", "labelBaseline": "middle", "labelFlush": false, "labelOverlap": false}},
   "y2": {"datum": 0},
   "color": {"condition": [
     {"test": "datum.hs == 'g'", "value": "#26a69a"},
     {"test": "datum.hs == 'gl'", "value": "#b2dfdb"},
     {"test": "datum.hs == 'r'", "value": "#ff5252"}], "value": "#ffcdd2"}}},
 {"data": {"name": "macdm"},
  "mark": {"type": "line", "color": "#2962ff", "strokeWidth": 1.5, "interpolate": "monotone", "clip": true},
  "encoding": {"y": {"field": "v", "type": "quantitative", "scale": {"domain": [-107.5, 57.9], "range": [684.5, 615], "nice": false, "zero": false}}}},
 {"data": {"name": "macds"},
  "mark": {"type": "line", "color": "#ff6d00", "strokeWidth": 1.5, "interpolate": "monotone", "clip": true},
  "encoding": {"y": {"field": "v", "type": "quantitative", "scale": {"domain": [-107.5, 57.9], "range": [684.5, 615], "nice": false, "zero": false}}}},
 {"data": {"values": [{"t1": "2021-12-20T23:23", "t2": "2022-01-17T00:00", "sv": 57.9}, {"t1": "2021-12-20T23:23", "t2": "2022-01-17T00:00", "sv": -107.5}]},
  "mark": {"type": "rule", "color": "#2a2e39", "strokeWidth": 1},
  "encoding": {
   "x": {"field": "t1", "type": "temporal"}, "x2": {"field": "t2"},
   "y": {"field": "sv", "type": "quantitative", "scale": {"domain": [-107.5, 57.9], "range": [684.5, 615], "nice": false, "zero": false}}}}
]},
{"layer": [
 {"data": {"values": [{"t1": "2021-12-20T23:23", "t2": "2022-01-15T17:18", "lo": 30, "hi": 70}]},
  "mark": {"type": "rect", "fill": "#7e57c2", "fillOpacity": 0.1},
  "encoding": {
   "x": {"field": "t1", "type": "temporal"}, "x2": {"field": "t2"},
   "y": {"field": "lo", "type": "quantitative", "scale": {"domain": [12.3, 77.6], "range": [756, 684.5], "nice": false, "zero": false},
    "axis": {"orient": "right", "title": null, "values": [40], "format": ".2f", "grid": false, "ticks": false,
     "domain": true, "domainColor": "#2a2e39", "labelPadding": 13, "labelColor": "#b2b5be", "labelFont": "DejaVu Sans",
     "labelFontSize": 12.5, "labelAlign": "left", "labelBaseline": "middle", "labelFlush": false, "labelOverlap": false}},
   "y2": {"field": "hi"}}},
 {"data": {"values": [
   {"t1": "2021-12-20T23:23", "t2": "2022-01-15T17:18", "lv": 70},
   {"t1": "2021-12-20T23:23", "t2": "2022-01-15T17:18", "lv": 50},
   {"t1": "2021-12-20T23:23", "t2": "2022-01-15T17:18", "lv": 30}]},
  "mark": {"type": "rule", "color": "#787b86", "strokeWidth": 1, "strokeDash": [4, 4], "opacity": 0.8},
  "encoding": {
   "x": {"field": "t1", "type": "temporal"}, "x2": {"field": "t2"},
   "y": {"field": "lv", "type": "quantitative", "scale": {"domain": [12.3, 77.6], "range": [756, 684.5], "nice": false, "zero": false}}}},
 {"data": {"name": "rsi"},
  "mark": {"type": "line", "color": "#7e57c2", "strokeWidth": 1.2, "clip": true},
  "encoding": {"y": {"field": "v", "type": "quantitative", "scale": {"domain": [12.3, 77.6], "range": [756, 684.5], "nice": false, "zero": false}}}},
 {"data": {"name": "rsima"},
  "mark": {"type": "line", "color": "#e8dd4a", "strokeWidth": 1.4, "interpolate": "monotone", "clip": true},
  "encoding": {"y": {"field": "v", "type": "quantitative", "scale": {"domain": [12.3, 77.6], "range": [756, 684.5], "nice": false, "zero": false}}}},
 {"data": {"values": [{"t1": "2021-12-20T23:23", "t2": "2022-01-17T00:00", "z": 12.3}]},
  "mark": {"type": "rule", "color": "#2a2e39", "strokeWidth": 1},
  "encoding": {
   "x": {"field": "t1", "type": "temporal"}, "x2": {"field": "t2"},
   "y": {"field": "z", "type": "quantitative", "scale": {"domain": [12.3, 77.6], "range": [756, 684.5], "nice": false, "zero": false}}}},
 {"data": {"values": [{"t": "2022-01-15T17:18", "a": 12.3, "b": -25}]},
  "mark": {"type": "rule", "color": "#2a2e39", "strokeWidth": 1},
  "encoding": {
   "y": {"field": "a", "type": "quantitative", "scale": {"domain": [12.3, 77.6], "range": [756, 684.5], "nice": false, "zero": false}},
   "y2": {"field": "b"}}}
]}
],
"resolve": {"scale": {"y": "independent"}, "axis": {"y": "independent"}}
}
